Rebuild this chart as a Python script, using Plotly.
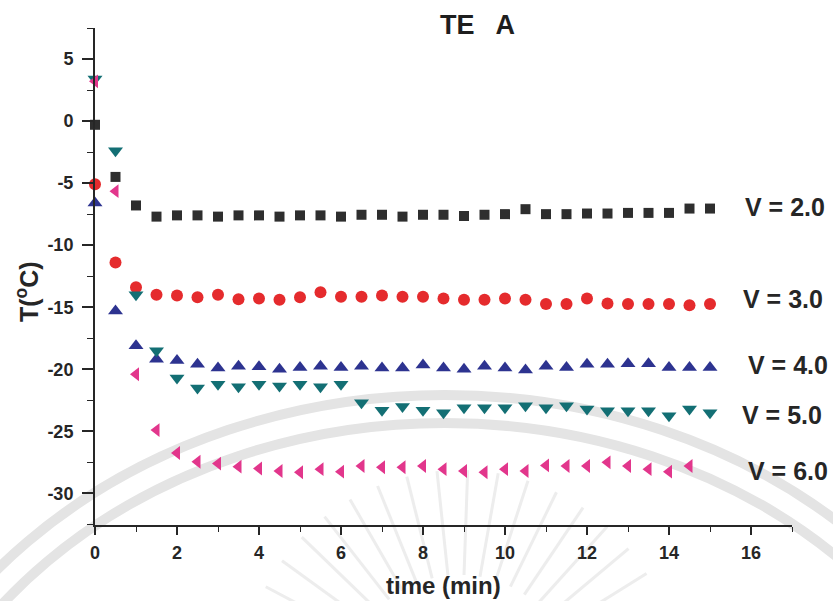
import math
import plotly.graph_objects as go

# Sampling times (min)
time_min = [0, 0.5, 1, 1.5, 2, 2.5, 3, 3.5, 4, 4.5, 5, 5.5, 6, 6.5, 7, 7.5,
            8, 8.5, 9, 9.5, 10, 10.5, 11, 11.5, 12, 12.5, 13, 13.5, 14, 14.5, 15]

# Temperature (deg C) for each supply voltage
temp_v2 = [-0.3, -4.5, -6.8, -7.7, -7.6, -7.6, -7.7, -7.6, -7.6, -7.7, -7.6,
           -7.6, -7.7, -7.55, -7.55, -7.7, -7.55, -7.55, -7.65, -7.55, -7.5,
           -7.1, -7.5, -7.5, -7.45, -7.45, -7.4, -7.4, -7.4, -7.05, -7.05]
temp_v3 = [-5.1, -11.4, -13.4, -14.0, -14.05, -14.2, -14.0, -14.35, -14.3,
           -14.4, -14.2, -13.8, -14.15, -14.15, -14.05, -14.15, -14.15, -14.3,
           -14.4, -14.4, -14.3, -14.4, -14.75, -14.75, -14.3, -14.7, -14.75,
           -14.75, -14.75, -14.85, -14.75]
temp_v4 = [-6.6, -15.3, -18.1, -19.2, -19.3, -19.6, -19.9, -19.75, -19.8,
           -20.0, -19.85, -19.75, -19.85, -19.75, -19.9, -19.9, -19.65, -19.9,
           -20.0, -19.75, -19.9, -20.05, -19.75, -19.85, -19.6, -19.6, -19.55,
           -19.55, -19.85, -19.85, -19.85]
temp_v5 = [3.4, -2.4, -14.0, -18.5, -20.7, -21.5, -21.2, -21.4, -21.2, -21.35,
           -21.2, -21.4, -21.2, -22.7, -23.3, -23.0, -23.3, -23.5, -23.1, -23.1,
           -23.1, -22.95, -23.1, -22.95, -23.2, -23.35, -23.35, -23.35, -23.75,
           -23.2, -23.5]
temp_v6 = [3.2, -5.65, -20.4, -24.9, -26.75, -27.45, -27.6, -27.85, -28.0,
           -28.2, -28.3, -28.05, -28.25, -27.8, -27.9, -27.9, -27.8, -28.05,
           -28.2, -28.3, -28.05, -28.2, -27.75, -27.8, -27.8, -27.5, -27.8,
           -28.05, -28.25, -27.8]

series_labels = ["V = 2.0", "V = 3.0", "V = 4.0", "V = 5.0", "V = 6.0"]
y_ticks = [-30, -25, -20, -15, -10, -5, 0, 5]
y_tick_text = ["-30", "-25", "-20", "-15", "-10", "-5", "0", "5"]
x_ticks = [0, 2, 4, 6, 8, 10, 12, 14, 16]

# Figure geometry (pixels)
W, H = 833, 601
ML, MR, MT, MB = 95, 41, 28, 76
PW, PH = W - ML - MR, H - MT - MB


def px_x(px):
    return (px - ML) / PW


def px_y(py):
    return (H - MB - py) / PH


FONT = "Liberation Sans, Arial, sans-serif"
INK = "#262626"

series = [
    (temp_v2, "square", 10, "#2e2e2e"),
    (temp_v3, "circle", 12, "#e52b2d"),
    (temp_v4, "triangle-up", 13, "#2d3390"),
    (temp_v5, "triangle-down", 13, "#136f74"),
    (temp_v6, "triangle-left", 12, "#e2368c"),
]

fig = go.Figure()
for (vals, sym, size, col), name in zip(series, series_labels):
    fig.add_trace(go.Scatter(
        x=time_min[:len(vals)], y=vals, mode="markers", name=name,
        marker=dict(symbol=sym, size=size, color=col, line=dict(width=0)),
        cliponaxis=False, showlegend=False,
    ))

# Faint emblem in the background: a double ring and a fan of rays
shapes = []
ecx, ecy = 445, 895
for rx, ry in ((590, 500), (562, 472)):
    shapes.append(dict(
        type="circle", xref="paper", yref="paper", layer="below",
        x0=px_x(ecx - rx), x1=px_x(ecx + rx),
        y0=px_y(ecy + ry), y1=px_y(ecy - ry),
        line=dict(color="#e4e4e4", width=10), fillcolor="rgba(0,0,0,0)",
    ))
rcx, rcy = 460, 690
for deg in range(-152, -27, 8):
    a = math.radians(deg)
    r0, r1 = 115, 220
    shapes.append(dict(
        type="line", xref="paper", yref="paper", layer="below",
        x0=px_x(rcx + r0 * math.cos(a)), y0=px_y(rcy + r0 * math.sin(a)),
        x1=px_x(rcx + r1 * math.cos(a)), y1=px_y(rcy + r1 * math.sin(a)),
        line=dict(color="#ededed", width=3),
    ))

annotations = [
    dict(text="TE\u2002\u00a0A", x=px_x(478), y=px_y(25), xref="paper",
         yref="paper", xanchor="center", yanchor="middle", showarrow=False,
         font=dict(family=FONT, size=27, color="#1e1e1e", weight="bold")),
    dict(text="time (min)", x=px_x(443), y=px_y(585), xref="paper",
         yref="paper", xanchor="center", yanchor="middle", showarrow=False,
         font=dict(family=FONT, size=24, color=INK, weight="bold")),
    dict(text="T(<sup>o</sup>C)", x=px_x(27), y=px_y(292), xref="paper",
         yref="paper", xanchor="center", yanchor="middle", showarrow=False,
         textangle=-90,
         font=dict(family=FONT, size=25, color=INK, weight="bold")),
]
label_pos = [(743, 207), (741, 299), (746, 365), (740, 415), (746, 471)]
for text, (lx, ly) in zip(series_labels, label_pos):
    annotations.append(dict(
        text=text, x=px_x(lx), y=px_y(ly), xref="paper", yref="paper",
        xanchor="left", yanchor="middle", showarrow=False,
        font=dict(family=FONT, size=25, color=INK, weight="bold"),
    ))

fig.update_layout(
    width=W, height=H,
    margin=dict(l=ML, r=MR, t=MT, b=MB, pad=0),
    paper_bgcolor="white", plot_bgcolor="rgba(0,0,0,0)",
    shapes=shapes, annotations=annotations,
    font=dict(family=FONT, color=INK),
)
fig.update_xaxes(
    range=[0, 17], tickvals=x_ticks, ticks="outside", ticklen=8,
    tickwidth=1.6, tickcolor=INK, showline=True, linecolor=INK, linewidth=2,
    showgrid=False, zeroline=False, ticklabelstandoff=2,
    tickfont=dict(family=FONT, size=18, color=INK, weight="bold"),
    minor=dict(dtick=1, tick0=0, ticks="outside", ticklen=5, tickwidth=1.4,
               tickcolor=INK, showgrid=False),
)
fig.update_yaxes(
    range=[-32.55, 7.5], tickvals=y_ticks, ticktext=y_tick_text,
    ticks="outside", ticklen=11,
    tickwidth=1.6, tickcolor=INK, showline=True, linecolor=INK, linewidth=2,
    showgrid=False, zeroline=False, ticklabelstandoff=5,
    tickfont=dict(family=FONT, size=18, color=INK, weight="bold"),
    minor=dict(dtick=2.5, tick0=0, ticks="outside", ticklen=6, tickwidth=1.4,
               tickcolor=INK, showgrid=False),
)

fig.write_html("out.html")
